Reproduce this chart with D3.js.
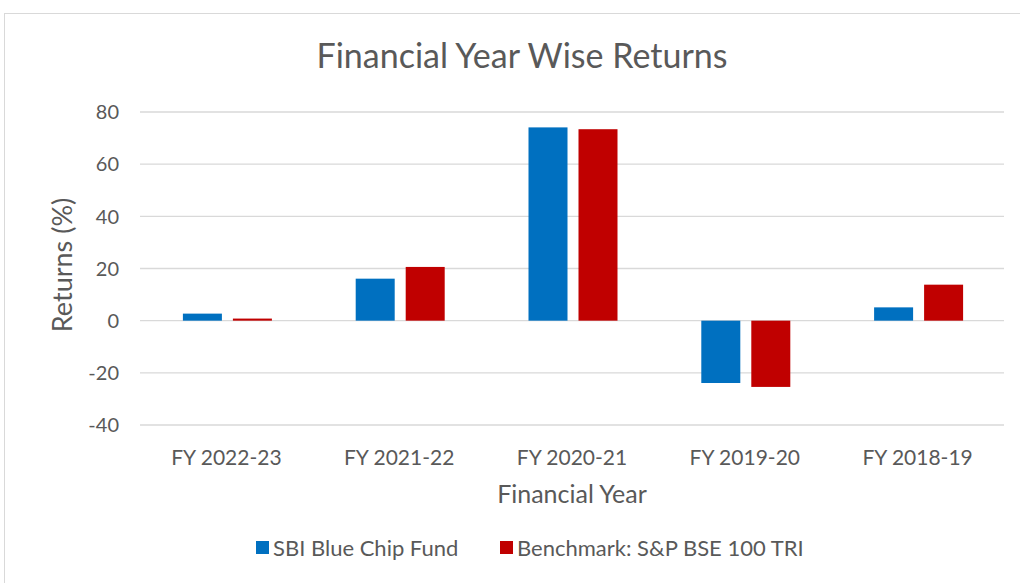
<!DOCTYPE html>
<html><head><meta charset="utf-8">
<script src="https://cdn.jsdelivr.net/npm/d3@7/dist/d3.min.js"></script>
<style>body{margin:0;background:#fff}svg{display:block;font-family:Lato,"Open Sans",sans-serif}</style>
</head><body>
<script>
const categories = ["FY 2022-23","FY 2021-22","FY 2020-21","FY 2019-20","FY 2018-19"];
const seriesNames = ["SBI Blue Chip Fund","Benchmark: S&P BSE 100 TRI"];
const fundValues = [2.7, 16.1, 74.1, -23.9, 5.1];
const benchValues = [0.8, 20.6, 73.4, -25.4, 13.8];
const yTicks = [-40,-20,0,20,40,60,80];
const colors = ["#0070C0","#C00000"];

(function(){
const W=1020,H=583;
const svg=d3.select("body").append("svg").attr("width",W).attr("height",H);
svg.append("rect").attr("x",4.5).attr("y",13.5).attr("width",W+10).attr("height",H+10)
  .attr("fill","#fff").attr("stroke","#d9d9d9").attr("stroke-width",1);

const pL=140,pR=1004,pT=112,pB=425;
const x=d3.scaleBand().domain(categories).range([pL,pR]);
const y=d3.scaleLinear().domain([-40,80]).range([pB,pT]);

const grid=svg.append("g");
yTicks.forEach(t=>{
  grid.append("line").attr("x1",pL).attr("x2",pR).attr("y1",y(t)).attr("y2",y(t))
    .attr("stroke","#d9d9d9").attr("stroke-width",1.3);
  svg.append("text").attr("x",119).attr("y",y(t)).attr("dy","0.36em").attr("text-anchor","end")
    .attr("font-size",20).attr("fill","#595959").text(t);
});

const bw=39, gap=11;
const series=[fundValues,benchValues];
series.forEach((vals,si)=>{
  svg.append("g").selectAll("rect").data(vals).join("rect")
    .attr("x",(d,i)=>x(categories[i])+x.bandwidth()/2-(bw+gap/2)+si*(bw+gap)+1)
    .attr("width",bw)
    .attr("y",d=>y(Math.max(0,d)))
    .attr("height",d=>Math.abs(y(d)-y(0)))
    .attr("fill",colors[si]);
});

categories.forEach(c=>{
  svg.append("text").attr("x",x(c)+x.bandwidth()/2).attr("y",465).attr("text-anchor","middle")
    .attr("font-size",21).attr("fill","#595959").text(c);
});

svg.append("text").attr("x",522).attr("y",68).attr("text-anchor","middle")
  .attr("font-size",34).attr("fill","#595959").text("Financial Year Wise Returns");
svg.append("text").attr("x",572).attr("y",503).attr("text-anchor","middle")
  .attr("font-size",25).attr("fill","#595959").text("Financial Year");
svg.append("text").attr("transform","translate(72,265) rotate(-90)").attr("text-anchor","middle")
  .attr("font-size",27).attr("fill","#595959").text("Returns (%)");

const legX=[256,500];
seriesNames.forEach((n,i)=>{
  svg.append("rect").attr("x",legX[i]).attr("y",541).attr("width",13).attr("height",13).attr("fill",colors[i]);
  svg.append("text").attr("x",legX[i]+17).attr("y",556).attr("font-size",22).attr("fill","#595959").text(n);
});
})();
</script>
</body></html>
